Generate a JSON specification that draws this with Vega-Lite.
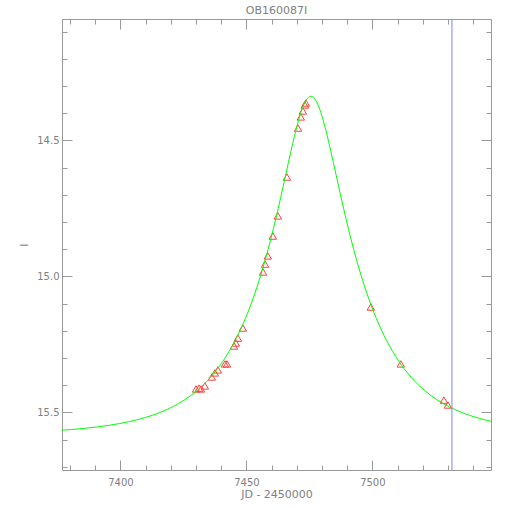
{
  "$schema": "https://vega.github.io/schema/vega-lite/v6.json",
  "width": 429,
  "height": 451,
  "autosize": {"type": "none"},
  "padding": {"left": 62, "top": 19, "right": 19, "bottom": 40},
  "background": "white",
  "config": {"view": {"stroke": null}, "font": "DejaVu Sans"},
  "title": {"text": "OB160087I", "font": "DejaVu Sans", "fontSize": 11, "fontWeight": "normal", "color": "#808080", "offset": 3},
  "datasets": {
    "curve": [
      {"jd": 7375.6, "mag": 15.5665}, {"jd": 7385.6, "mag": 15.559}, {"jd": 7395.6, "mag": 15.5475},
      {"jd": 7403.6, "mag": 15.5339}, {"jd": 7409.6, "mag": 15.5198}, {"jd": 7415.6, "mag": 15.5009},
      {"jd": 7420.6, "mag": 15.480}, {"jd": 7425.6, "mag": 15.4534}, {"jd": 7430.6, "mag": 15.4185},
      {"jd": 7435.6, "mag": 15.373}, {"jd": 7440.6, "mag": 15.3134}, {"jd": 7445.6, "mag": 15.235},
      {"jd": 7449.6, "mag": 15.1551}, {"jd": 7452.6, "mag": 15.0829}, {"jd": 7455.6, "mag": 14.9987},
      {"jd": 7457.6, "mag": 14.9353}, {"jd": 7459.6, "mag": 14.866}, {"jd": 7461.6, "mag": 14.7908},
      {"jd": 7463.6, "mag": 14.7106}, {"jd": 7465.6, "mag": 14.627}, {"jd": 7467.6, "mag": 14.5435},
      {"jd": 7469.6, "mag": 14.465}, {"jd": 7471.6, "mag": 14.399}, {"jd": 7473.6, "mag": 14.354},
      {"jd": 7475.6, "mag": 14.338}, {"jd": 7477.6, "mag": 14.354}, {"jd": 7479.6, "mag": 14.399},
      {"jd": 7481.6, "mag": 14.465}, {"jd": 7483.6, "mag": 14.5435}, {"jd": 7485.6, "mag": 14.627},
      {"jd": 7487.6, "mag": 14.7106}, {"jd": 7489.6, "mag": 14.7908}, {"jd": 7491.6, "mag": 14.866},
      {"jd": 7493.6, "mag": 14.9353}, {"jd": 7495.6, "mag": 14.9987}, {"jd": 7498.6, "mag": 15.0829},
      {"jd": 7501.6, "mag": 15.1551}, {"jd": 7505.6, "mag": 15.235}, {"jd": 7510.6, "mag": 15.3134},
      {"jd": 7515.6, "mag": 15.373}, {"jd": 7520.6, "mag": 15.4185}, {"jd": 7525.6, "mag": 15.4534},
      {"jd": 7530.6, "mag": 15.480}, {"jd": 7535.6, "mag": 15.5009}, {"jd": 7541.6, "mag": 15.5198},
      {"jd": 7547.6, "mag": 15.5339}
    ],
    "obs": [
      {"jd": 7430.0, "mag": 15.414}, {"jd": 7431.2, "mag": 15.411}, {"jd": 7432.0, "mag": 15.414},
      {"jd": 7433.5, "mag": 15.403}, {"jd": 7436.3, "mag": 15.370}, {"jd": 7437.5, "mag": 15.355},
      {"jd": 7438.7, "mag": 15.344}, {"jd": 7441.5, "mag": 15.322}, {"jd": 7442.3, "mag": 15.322},
      {"jd": 7445.1, "mag": 15.256}, {"jd": 7445.8, "mag": 15.245}, {"jd": 7446.6, "mag": 15.227},
      {"jd": 7448.6, "mag": 15.190}, {"jd": 7456.6, "mag": 14.984}, {"jd": 7457.4, "mag": 14.955},
      {"jd": 7458.5, "mag": 14.925}, {"jd": 7460.5, "mag": 14.852}, {"jd": 7462.5, "mag": 14.778},
      {"jd": 7466.1, "mag": 14.635}, {"jd": 7470.5, "mag": 14.455}, {"jd": 7471.6, "mag": 14.414},
      {"jd": 7472.4, "mag": 14.392}, {"jd": 7473.2, "mag": 14.370}, {"jd": 7473.6, "mag": 14.363},
      {"jd": 7499.4, "mag": 15.113}, {"jd": 7511.3, "mag": 15.322}, {"jd": 7528.4, "mag": 15.455},
      {"jd": 7530.0, "mag": 15.473}
    ],
    "tline": [{"jd": 7531.6}]
  },
  "layer": [
    {
      "data": {"name": "obs"},
      "mark": {"type": "point", "shape": "triangle-up", "filled": false, "color": "#ff4040", "size": 55, "strokeWidth": 1, "opacity": 1},
      "encoding": {
        "x": {"field": "jd", "type": "quantitative",
          "scale": {"domain": [7376.8, 7547.1], "nice": false, "zero": false},
          "axis": {"orient": "top", "values": [7380,7390,7400,7410,7420,7430,7440,7450,7460,7470,7480,7490,7500,7510,7520,7530,7540],
            "labels": false, "title": null, "grid": false, "domainColor": "#999999", "tickColor": "#999999",
            "tickSize": {"condition": {"test": "round(datum.value) % 50 === 0", "value": -10}, "value": -5}}},
        "y": {"field": "mag", "type": "quantitative",
          "scale": {"domain": [14.054, 15.712], "reverse": true, "nice": false, "zero": false},
          "axis": {"orient": "right", "values": [14.1,14.2,14.3,14.4,14.5,14.6,14.7,14.8,14.9,15.0,15.1,15.2,15.3,15.4,15.5,15.6,15.7],
            "labels": false, "title": null, "grid": false, "domainColor": "#999999", "tickColor": "#999999",
            "tickSize": {"condition": {"test": "round(datum.value * 10) % 5 === 0", "value": -10}, "value": -5}}}
      }
    },
    {
      "data": {"name": "curve"},
      "mark": {"type": "line", "color": "#00ff00", "strokeWidth": 1, "interpolate": "monotone", "clip": true},
      "encoding": {
        "x": {"field": "jd", "type": "quantitative",
          "scale": {"domain": [7376.8, 7547.1], "nice": false, "zero": false},
          "axis": {"orient": "bottom", "values": [7380,7390,7400,7410,7420,7430,7440,7450,7460,7470,7480,7490,7500,7510,7520,7530,7540],
            "labelExpr": "round(datum.value) % 50 === 0 ? datum.label : ''", "format": "d",
            "title": "JD - 2450000", "grid": false, "domainColor": "#999999", "tickColor": "#999999",
            "labelColor": "#808080", "labelFont": "DejaVu Sans", "labelFontSize": 10, "labelPadding": 17,
            "titleColor": "#808080", "titleFont": "DejaVu Sans", "titleFontSize": 11, "titleFontWeight": "normal", "titlePadding": 1,
            "tickSize": {"condition": {"test": "round(datum.value) % 50 === 0", "value": -10}, "value": -5}}},
        "y": {"field": "mag", "type": "quantitative",
          "scale": {"domain": [14.054, 15.712], "reverse": true, "nice": false, "zero": false},
          "axis": {"orient": "left", "values": [14.1,14.2,14.3,14.4,14.5,14.6,14.7,14.8,14.9,15.0,15.1,15.2,15.3,15.4,15.5,15.6,15.7],
            "labelExpr": "round(datum.value * 10) % 5 === 0 ? datum.label : ''", "format": ".1f",
            "title": "I", "grid": false, "domainColor": "#999999", "tickColor": "#999999",
            "labelColor": "#808080", "labelFont": "DejaVu Sans", "labelFontSize": 10, "labelPadding": 13,
            "titleColor": "#808080", "titleFont": "DejaVu Sans", "titleFontSize": 11, "titleFontWeight": "normal", "titlePadding": 7,
            "tickSize": {"condition": {"test": "round(datum.value * 10) % 5 === 0", "value": -10}, "value": -5}}}
      }
    },
    {
      "data": {"name": "tline"},
      "mark": {"type": "rule", "color": "#8080ff", "strokeWidth": 1},
      "encoding": {"x": {"field": "jd", "type": "quantitative", "axis": null}}
    }
  ],
  "resolve": {"axis": {"x": "independent", "y": "independent"}}
}
